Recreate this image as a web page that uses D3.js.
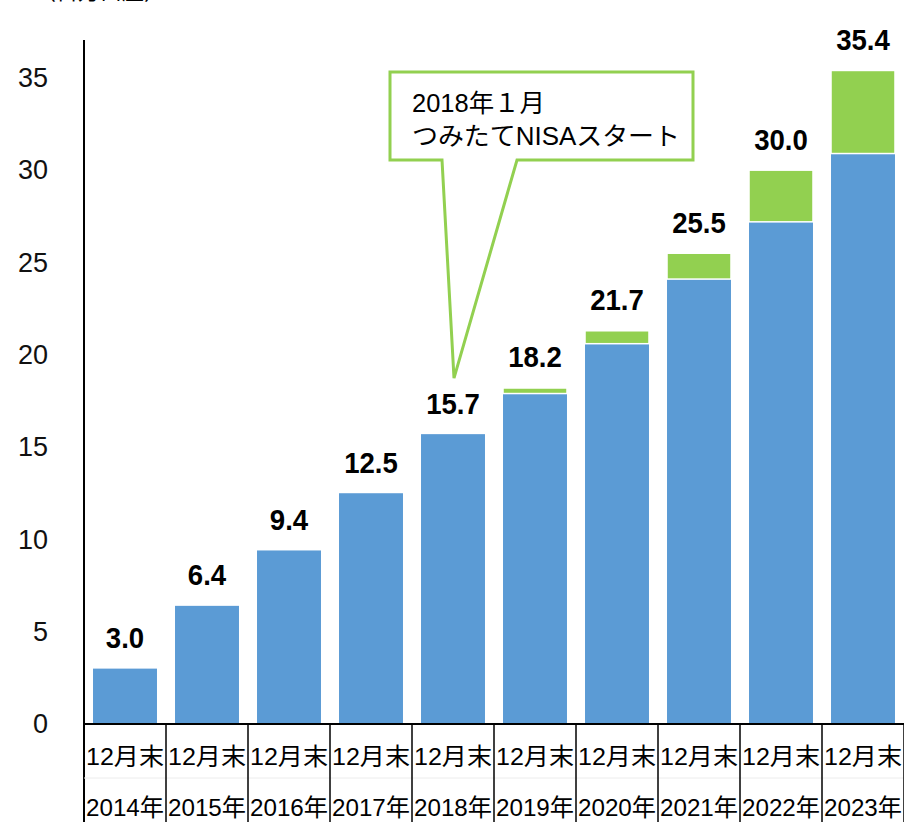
<!DOCTYPE html>
<html>
<head>
<meta charset="utf-8">
<script src="https://cdn.jsdelivr.net/npm/d3@7"></script>
<style>
  html, body { margin: 0; padding: 0; background: #fff; }
  svg { display: block; font-family: "Liberation Sans", Arial, "Noto Sans CJK JP", sans-serif; }
</style>
</head>
<body>
<div id="chart"></div>
<script>
(function () {

const YEARS = ['2014年', '2015年', '2016年', '2017年', '2018年',
               '2019年', '2020年', '2021年', '2022年', '2023年'];
const MONTH_LABEL = '12月末';
const BLUE_VALUES = [3.0, 6.4, 9.4, 12.5, 15.7, 17.9, 20.6, 24.1, 27.2, 30.9];
const GREEN_VALUES = [0, 0, 0, 0, 0, 0.3, 0.7, 1.4, 2.8, 4.5];
const TOTAL_LABELS = ['3.0', '6.4', '9.4', '12.5', '15.7', '18.2', '21.7', '25.5', '30.0', '35.4'];
const Y_TICKS = [0, 5, 10, 15, 20, 25, 30, 35];
const UNIT_LABEL = '（百万口座）';
const CALLOUT_LINES = ['2018年１月', 'つみたてNISAスタート'];

const [WIDTH, HEIGHT] = [904, 822];
const PLOT = { left: 84, right: 904, top: 40, bottom: 724 };
const COLORS = { blue: '#5b9bd5', green: '#92d050' };

const svg = d3.select('#chart').append('svg')
    .attr('width', WIDTH)
    .attr('height', HEIGHT)
    .attr('viewBox', `0 0 ${WIDTH} ${HEIGHT}`);

const x = d3.scaleBand()
    .domain(YEARS)
    .range([PLOT.left, PLOT.right])
    .paddingInner(0.22)
    .paddingOuter(0.11);

const y = d3.scaleLinear()
    .domain([0, 37.05])
    .range([PLOT.bottom, PLOT.top]);

const rows = YEARS.map((year, i) => ({
    year: year,
    blue: BLUE_VALUES[i],
    green: GREEN_VALUES[i],
    label: TOTAL_LABELS[i],
}));

// unit label, mostly cut off at the top edge
svg.append('text')
    .attr('x', 34)
    .attr('y', -1)
    .attr('font-size', 22)
    .attr('font-family', '"Noto Sans CJK JP", sans-serif')
    .text(UNIT_LABEL);

// y axis labels (no tick marks)
const yAxis = d3.axisLeft(y)
    .tickValues(Y_TICKS)
    .tickSize(0)
    .tickPadding(36);

svg.append('g')
    .attr('transform', `translate(${PLOT.left},0)`)
    .call(yAxis)
    .call((g) => g.select('.domain').remove())
    .call((g) => g.selectAll('text')
        .attr('font-size', 27)
        .attr('fill', '#111')
        .attr('font-family', '"Liberation Sans", Arial, sans-serif'));

// bars
const bars = svg.append('g');
bars.selectAll('.blue')
    .data(rows)
    .enter()
    .append('rect')
    .attr('class', 'blue')
    .attr('x', (d) => x(d.year))
    .attr('width', x.bandwidth())
    .attr('y', (d) => y(d.blue))
    .attr('height', (d) => y(0) - y(d.blue))
    .attr('fill', COLORS.blue);

bars.selectAll('.green')
    .data(rows.filter((d) => d.green > 0))
    .enter()
    .append('rect')
    .attr('class', 'green')
    .attr('x', (d) => x(d.year))
    .attr('width', x.bandwidth())
    .attr('y', (d) => y(d.blue + d.green))
    .attr('height', (d) => y(d.blue) - y(d.blue + d.green))
    .attr('fill', COLORS.green)
    .attr('stroke', '#fff')
    .attr('stroke-width', 1.5);

// total labels
svg.append('g').selectAll('text')
    .data(rows)
    .enter()
    .append('text')
    .attr('x', (d) => x(d.year) + x.bandwidth() / 2)
    .attr('y', (d) => y(d.blue + d.green) - 31)
    .attr('text-anchor', 'middle')
    .attr('dominant-baseline', 'central')
    .attr('font-size', 30)
    .attr('font-weight', 'bold')
    .attr('fill', '#000')
    .attr('transform', (d) => {
        const cx = x(d.year) + x.bandwidth() / 2;
        return `translate(${cx},0) scale(0.92,1) translate(${-cx},0)`;
    })
    .text((d) => d.label);

// y axis line
svg.append('line')
    .attr('x1', PLOT.left).attr('x2', PLOT.left)
    .attr('y1', PLOT.top).attr('y2', HEIGHT)
    .attr('stroke', '#000')
    .attr('stroke-width', 2);

// category table under the axis
const table = svg.append('g');
table.append('line')
    .attr('x1', PLOT.left).attr('x2', PLOT.right)
    .attr('y1', PLOT.bottom).attr('y2', PLOT.bottom)
    .attr('stroke', '#000')
    .attr('stroke-width', 2);

table.append('line')
    .attr('x1', PLOT.left).attr('x2', PLOT.right)
    .attr('y1', 778).attr('y2', 778)
    .attr('stroke', '#ececec')
    .attr('stroke-width', 1);

const step = x.step();
table.selectAll('.sep')
    .data(YEARS)
    .enter()
    .append('line')
    .attr('class', 'sep')
    .attr('x1', (d) => x(d) - x.paddingOuter() * step + step)
    .attr('x2', (d) => x(d) - x.paddingOuter() * step + step)
    .attr('y1', PLOT.bottom).attr('y2', HEIGHT)
    .attr('stroke', '#000')
    .attr('stroke-width', 1.5);

const cells = table.selectAll('.cell')
    .data(YEARS)
    .enter()
    .append('g')
    .attr('class', 'cell')
    .attr('transform', (d) => `translate(${x(d) + x.bandwidth() / 2},0)`);

cells.append('text')
    .attr('y', 756)
    .attr('text-anchor', 'middle')
    .attr('dominant-baseline', 'central')
    .attr('font-size', 24)
    .attr('textLength', 78)
    .attr('lengthAdjust', 'spacingAndGlyphs')
    .text(MONTH_LABEL);

cells.append('text')
    .attr('y', 807)
    .attr('text-anchor', 'middle')
    .attr('dominant-baseline', 'central')
    .attr('font-size', 24)
    .attr('textLength', 78)
    .attr('lengthAdjust', 'spacingAndGlyphs')
    .text((d) => d);

// callout pointing at the 2018 bar
const box = { left: 390, right: 693, top: 72, bottom: 160 };
const tip = [x('2018年') + x.bandwidth() / 2 + 1, y(15.7) - 56];
const callout = [
    [box.left, box.top], [box.right, box.top], [box.right, box.bottom],
    [517, box.bottom], tip, [442, box.bottom], [box.left, box.bottom],
];
svg.append('path')
    .attr('d', d3.line()(callout) + 'Z')
    .attr('fill', '#fff')
    .attr('stroke', COLORS.green)
    .attr('stroke-width', 3)
    .attr('stroke-linejoin', 'miter');

svg.append('g').selectAll('text')
    .data(CALLOUT_LINES)
    .enter()
    .append('text')
    .attr('x', 412)
    .attr('y', (d, i) => 103 + i * 33)
    .attr('dominant-baseline', 'central')
    .attr('font-size', 25)
    .attr('fill', '#000')
    .attr('textLength', (d, i) => i === 0 ? 133 : 268)
    .attr('lengthAdjust', 'spacingAndGlyphs')
    .text((d) => d);

})();
</script>
</body>
</html>
